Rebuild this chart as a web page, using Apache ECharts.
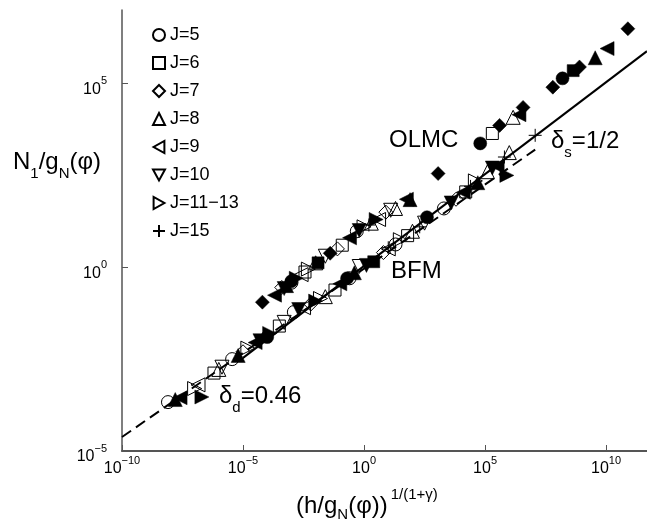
<!DOCTYPE html>
<html>
<head>
<meta charset="utf-8">
<script src="https://cdn.jsdelivr.net/npm/echarts@6/dist/echarts.min.js"></script>
<style>
  html, body { margin: 0; padding: 0; background: #fff; }
  #chart { width: 647px; height: 520px; }
</style>
</head>
<body>
<div id="chart"></div>
<script>
// All values are log10 exponents: [log10(x), log10(y)]
const xTickValues = [-10, -5, 0, 5, 10];
const yTickValues = [-5, 0, 5];
const xRange = [-10, 11.69];
const yRange = [-5, 7];

const legendNames = ['J=5', 'J=6', 'J=7', 'J=8', 'J=9', 'J=10', 'J=11\u221213', 'J=15'];

const j5Open = [[-8.1, -3.67], [-5.45, -2.5], [-2.9, -1.22], [-0.6, -0.3], [1.3, 0.62], [3.3, 1.6], [-3.0, -0.42], [-0.3, 0.98]];
const j5Filled = [[-4.0, -1.9], [-0.7, -0.3], [2.6, 1.36], [4.8, 3.37], [8.2, 5.14], [-3.0, -0.38]];

const j6Open = [[-6.2, -2.88], [-3.5, -1.6], [-1.2, -0.62], [1.8, 0.86], [4.2, 2.05], [-2.44, -0.13], [-0.9, 0.6], [5.3, 3.64]];
const j6Filled = [[8.64, 5.35], [-1.9, 0.12], [0.4, 0.15]];

const j7Open = [[-5.0, -2.3], [-2.2, -1.0], [0.8, 0.4], [3.8, 1.85], [-3.4, -0.55], [-1.1, 0.5], [0.9, 1.5]];
const j7Filled = [[-4.2, -0.95], [-1.4, 0.38], [3.06, 2.55], [5.6, 3.86], [6.57, 4.35], [7.8, 4.9], [8.9, 5.45], [10.9, 6.49]];

const j8Open = [[-6.0, -2.78], [-1.6, -0.8], [2.0, 0.98], [5.1, 2.6], [6.0, 3.12], [-2.0, 0.12], [0.3, 1.2], [1.3, 1.6], [6.16, 4.08]];
const j8Filled = [[-7.8, -3.6], [-5.2, -2.4], [-0.4, -0.15], [4.7, 2.3], [9.55, 5.7], [-3.2, -0.5], [1.9, 1.84]];

const j9Open = [[-6.86, -3.2], [-2.5, -1.1], [1.0, 0.5], [-2.6, -0.2], [0.6, 1.3]];
const j9Filled = [[-7.6, -3.55], [-4.5, -2.05], [-1.0, -0.45], [4.1, 2.04], [5.5, 2.75], [-3.7, -0.76], [-0.6, 0.8], [1.75, 1.85], [10.04, 5.95], [6.4, 4.15]];

const j10Open = [[-5.87, -2.72], [-3.3, -1.5], [-0.2, 0.02], [2.5, 1.2], [-1.6, 0.3], [1.1, 1.55]];
const j10Filled = [[-4.3, -2.0], [-2.7, -1.15], [0.1, 0.05], [3.6, 1.75], [5.3, 2.7], [-3.3, -0.58], [-0.2, 1.0]];

const j11Open = [[-7.0, -3.3], [-4.8, -2.2], [-1.8, -0.85], [1.5, 0.75], [4.6, 2.35], [-2.3, -0.05], [0.0, 1.1]];
const j11Filled = [[-6.7, -3.53], [-3.9, -1.8], [-2.0, -0.92], [5.9, 2.5], [-2.8, -0.3], [0.5, 1.3]];

const j15Plus = [[7.07, 3.59], [2.3, 1.1], [4.4, 2.2], [1.0, 0.53], [5.8, 3.0], [0.2, 1.15]];

const dashedFit = [[-10, -4.62], [7.07, 3.2]];   // delta_d = 0.46
const solidFit = [[-5, -2.465], [11.69, 5.88]];  // delta_s = 1/2

const FONT = '"Liberation Sans", Arial, Helvetica, sans-serif';
const PATHS = {
  tri: 'triangle',
  triDown: 'path://M0,0L10,0L5,9z',
  triLeft: 'path://M9,0L9,10L0,5z',
  triRight: 'path://M0,0L0,10L9,5z',
  plus: 'path://M0,5L10,5M5,0L5,10'
};

function scat(name, data, symbol, size, filled) {
  return {
    type: 'scatter', name: name, data: data, symbol: symbol, symbolSize: size,
    itemStyle: filled
      ? { color: '#000', borderColor: '#000', borderWidth: 0.5, opacity: 1 }
      : { color: 'rgba(255,255,255,0)', borderColor: '#000', borderWidth: 1, opacity: 1 },
    z: filled ? 3 : 4
  };
}

const series = [
  scat(legendNames[0], j5Open, 'circle', 13, false),
  scat(legendNames[1], j6Open, 'rect', 12, false),
  scat(legendNames[2], j7Open, 'diamond', 14, false),
  scat(legendNames[3], j8Open, PATHS.tri, 14, false),
  scat(legendNames[4], j9Open, PATHS.triLeft, 14, false),
  scat(legendNames[5], j10Open, PATHS.triDown, 14, false),
  scat(legendNames[6], j11Open, PATHS.triRight, 14, false),
  scat(legendNames[7], j15Plus, PATHS.plus, 13, false),
  scat(legendNames[0], j5Filled, 'circle', 13, true),
  scat(legendNames[1], j6Filled, 'rect', 12, true),
  scat(legendNames[2], j7Filled, 'diamond', 14, true),
  scat(legendNames[3], j8Filled, PATHS.tri, 14, true),
  scat(legendNames[4], j9Filled, PATHS.triLeft, 14, true),
  scat(legendNames[5], j10Filled, PATHS.triDown, 14, true),
  scat(legendNames[6], j11Filled, PATHS.triRight, 14, true),
  {
    type: 'line', name: 'dashed', data: dashedFit, symbol: 'none',
    lineStyle: { color: '#000', width: 2, type: [11, 6] }, z: 2, silent: true
  },
  {
    type: 'line', name: 'solid', data: solidFit, symbol: 'none',
    lineStyle: { color: '#000', width: 2 }, z: 2, silent: true
  }
];

const supRich = {
  b: { fontFamily: FONT, fontSize: 16, lineHeight: 16, color: '#000', verticalAlign: 'top', padding: [6, 0, 0, 0] },
  s: { fontFamily: FONT, fontSize: 11, lineHeight: 11, color: '#000', verticalAlign: 'top', padding: [0, 0, 0, 0] }
};
function powLabel(v) {
  const e = Math.round(v);
  const txt = e < 0 ? '\u2212' + Math.abs(e) : String(e);
  return '{b|10}{s|' + txt + '}';
}

const subRich = {
  a: { fontFamily: FONT, fontSize: 24, lineHeight: 24, color: '#000', verticalAlign: 'top' },
  s: { fontFamily: FONT, fontSize: 15, lineHeight: 15, color: '#000', verticalAlign: 'top', padding: [16, 0, 0, 0] }
};

const option = {
  animation: false,
  backgroundColor: '#fff',
  grid: { left: 122, right: 0, top: 10, bottom: 69 },
  legend: {
    data: legendNames,
    orient: 'vertical',
    left: 147, top: 21,
    itemWidth: 12, itemHeight: 12,
    itemGap: 10,
    textStyle: { fontFamily: FONT, fontSize: 18, color: '#000', lineHeight: 18 },
    selectedMode: false
  },
  xAxis: {
    type: 'value', min: xRange[0], max: xRange[1], interval: 5,
    axisLine: { onZero: false, lineStyle: { color: '#555', width: 2 } },
    axisTick: { inside: true, length: 6, customValues: xTickValues, lineStyle: { color: '#555', width: 1 } },
    axisLabel: { customValues: xTickValues, margin: 4, formatter: powLabel, rich: supRich },
    splitLine: { show: false }
  },
  yAxis: {
    type: 'value', min: yRange[0], max: yRange[1], interval: 5,
    axisLine: { onZero: false, lineStyle: { color: '#555', width: 1.5 } },
    axisTick: { inside: true, length: 6, customValues: yTickValues, lineStyle: { color: '#555', width: 1 } },
    axisLabel: { customValues: yTickValues, margin: 15, formatter: powLabel, rich: supRich },
    splitLine: { show: false }
  },
  graphic: [
    {
      type: 'text', left: 13, top: 150,
      style: {
        text: '{a|N}{s|1}{a|/g}{s|N}{a|(\u03c6)}',
        rich: subRich
      }
    },
    {
      type: 'text', left: 296, top: 487,
      style: {
        text: '{a|(h/g}{s|N}{a|(\u03c6))}{p|1/(1+\u03b3)}',
        rich: {
          a: { fontFamily: FONT, fontSize: 24, lineHeight: 24, color: '#000', verticalAlign: 'top', padding: [7, 0, 0, 0] },
          s: { fontFamily: FONT, fontSize: 15, lineHeight: 15, color: '#000', verticalAlign: 'top', padding: [20, 0, 0, 0] },
          p: { fontFamily: FONT, fontSize: 15, lineHeight: 15, color: '#000', verticalAlign: 'top', padding: [0, 0, 0, 3] }
        }
      }
    },
    {
      type: 'text', left: 389, top: 128,
      style: { text: 'OLMC', fontFamily: FONT, fontSize: 24, fill: '#000' }
    },
    {
      type: 'text', left: 391, top: 259,
      style: { text: 'BFM', fontFamily: FONT, fontSize: 24, fill: '#000' }
    },
    {
      type: 'text', left: 551, top: 129,
      style: { text: '{a|\u03b4}{s|s}{a|=1/2}', rich: subRich }
    },
    {
      type: 'text', left: 219, top: 384,
      style: { text: '{a|\u03b4}{s|d}{a|=0.46}', rich: subRich }
    }
  ],
  series: series
};

const chart = echarts.init(document.getElementById('chart'), null, { renderer: 'canvas' });
chart.setOption(option);
</script>
</body>
</html>
